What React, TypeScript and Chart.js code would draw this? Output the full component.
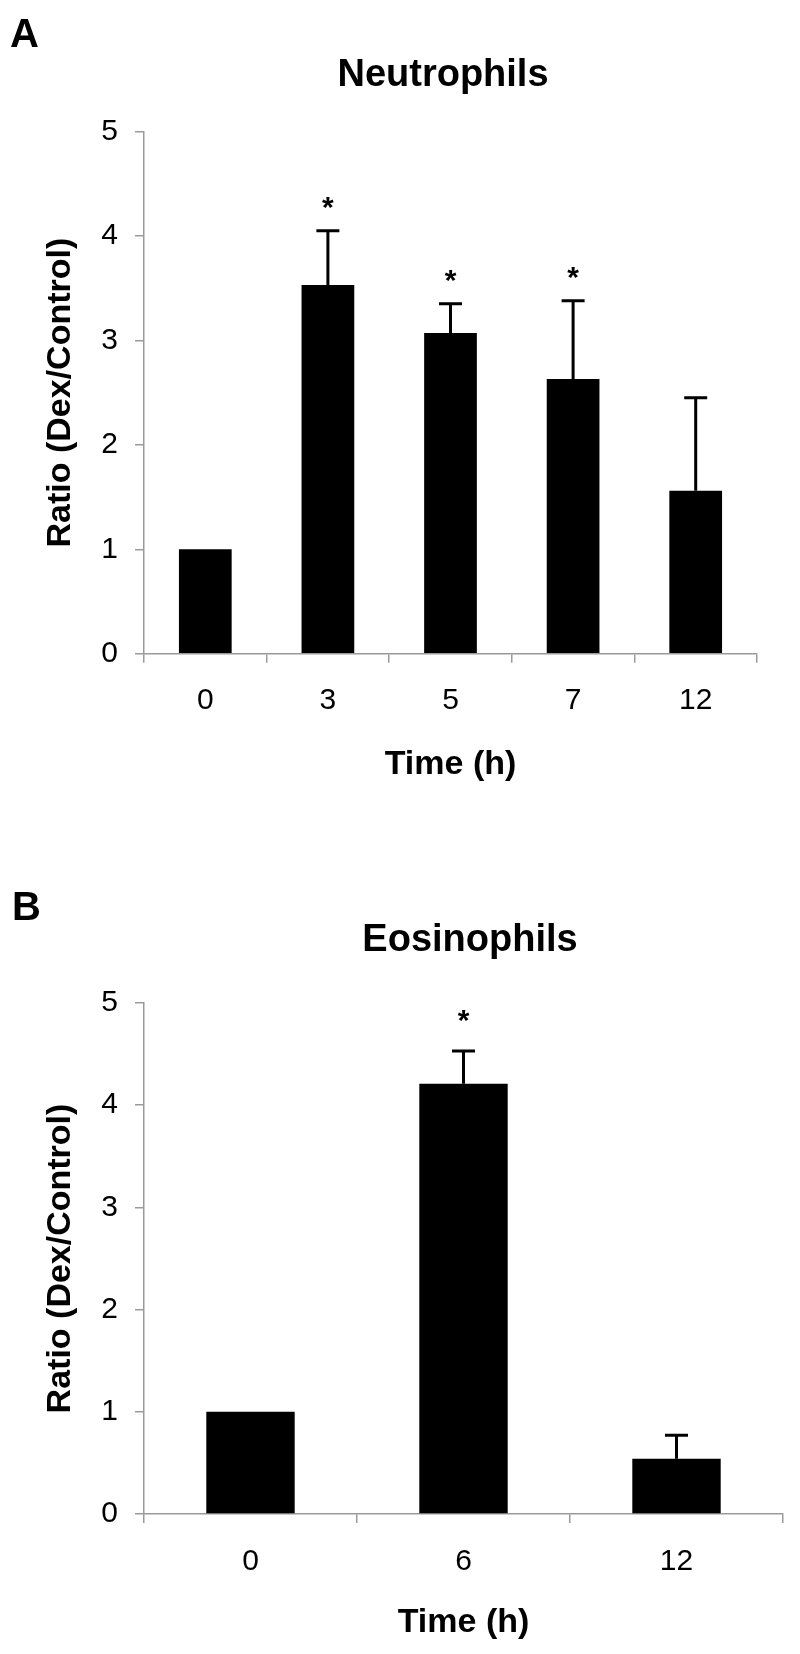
import React, { useEffect, useRef } from 'react';
import { Chart, registerables } from 'chart.js';

Chart.register(...registerables);

const FONT = 'Arial, "Liberation Sans", Helvetica, sans-serif';
const AXIS_COLOR = '#9a9a9a';

// Panel A – Neutrophils
const neutrophilTimes = ['0', '3', '5', '7', '12'];
const neutrophilRatio = [1.0, 3.53, 3.07, 2.63, 1.56];
const neutrophilError = [0, 0.52, 0.28, 0.75, 0.89];
const neutrophilSignificant = [false, true, true, true, false];

// Panel B – Eosinophils
const eosinophilTimes = ['0', '6', '12'];
const eosinophilRatio = [1.0, 4.21, 0.54];
const eosinophilError = [0, 0.32, 0.23];
const eosinophilSignificant = [false, true, false];

// Axis ticks and titles
const yTickValues = [0, 1, 2, 3, 4, 5];
const yAxisTitle = 'Ratio (Dex/Control)';
const xAxisTitle = 'Time (h)';

type Layout = {
  top: number;
  height: number;
  padTop: number;
  padRight: number;
  xAxisHeight: number;
  xTickPad: number;
  xTitlePadBottom: number;
  yTitlePadTop: number;
  titleX: number;
  titleBaseline: number;
  letterX: number;
  letterBaseline: number;
  barPct: number;
  starGap: number;
};

const layoutA: Layout = {
  top: 0, height: 827, padTop: 131.4, padRight: 43, xAxisHeight: 173.2,
  xTickPad: 20, xTitlePadBottom: 41.6, yTitlePadTop: 40,
  titleX: 443, titleBaseline: 86, letterX: 10, letterBaseline: 47,
  barPct: 0.43, starGap: 31,
};

const layoutB: Layout = {
  top: 827, height: 827, padTop: 176, padRight: 17, xAxisHeight: 140,
  xTickPad: 21, xTitlePadBottom: 10.6, yTitlePadTop: 40,
  titleX: 470, titleBaseline: 124, letterX: 12, letterBaseline: 93,
  barPct: 0.415, starGap: 38,
};

type PanelProps = {
  letter: string;
  title: string;
  labels: string[];
  values: number[];
  errors: number[];
  significant: boolean[];
  layout: Layout;
};

function Panel(props: PanelProps) {
  const ref = useRef<HTMLCanvasElement>(null);

  useEffect(() => {
    const canvas = ref.current;
    if (!canvas) return;
    const L = props.layout;

    const annotate = {
      id: 'annotate',
      afterDraw(chart: any) {
        const ctx = chart.ctx as CanvasRenderingContext2D;
        ctx.save();
        ctx.fillStyle = '#000';
        ctx.textBaseline = 'alphabetic';
        ctx.textAlign = 'left';
        ctx.font = `bold 40px ${FONT}`;
        ctx.fillText(props.letter, L.letterX, L.letterBaseline);
        ctx.textAlign = 'center';
        ctx.font = `bold 38px ${FONT}`;
        ctx.fillText(props.title, L.titleX, L.titleBaseline);

        const meta = chart.getDatasetMeta(0);
        const yScale = chart.scales.y;
        ctx.strokeStyle = '#000';
        ctx.lineWidth = 3;
        props.values.forEach((v, i) => {
          const e = props.errors[i];
          const x = meta.data[i].x;
          const yTop = yScale.getPixelForValue(v + e);
          if (e > 0) {
            const yBar = yScale.getPixelForValue(v);
            ctx.beginPath();
            ctx.moveTo(x, yBar);
            ctx.lineTo(x, yTop);
            ctx.moveTo(x - 11.5, yTop);
            ctx.lineTo(x + 11.5, yTop);
            ctx.stroke();
          }
          if (props.significant[i]) {
            ctx.font = `bold 30px ${FONT}`;
            ctx.fillText('*', x, yTop - L.starGap + 17);
          }
        });
        ctx.restore();
      },
    };

    const chart = new Chart(canvas, {
      type: 'bar',
      data: {
        labels: props.labels,
        datasets: [
          {
            data: props.values,
            backgroundColor: '#000000',
            borderWidth: 0,
            barPercentage: L.barPct,
            categoryPercentage: 1,
          },
        ],
      },
      options: {
        responsive: false,
        animation: false,
        devicePixelRatio: 1,
        layout: { padding: { top: L.padTop, right: L.padRight, left: 0, bottom: 0 } },
        plugins: {
          legend: { display: false },
          tooltip: { enabled: false },
          title: { display: false },
        },
        scales: {
          x: {
            type: 'category',
            offset: true,
            grid: {
              offset: true,
              drawOnChartArea: false,
              drawTicks: true,
              tickLength: 9,
              color: AXIS_COLOR,
              lineWidth: 1.5,
            },
            border: { display: true, color: AXIS_COLOR, width: 1.5 },
            ticks: {
              color: '#000',
              font: { family: FONT, size: 30 },
              padding: L.xTickPad,
              maxRotation: 0,
              autoSkip: false,
            },
            title: {
              display: true,
              text: xAxisTitle,
              color: '#000',
              font: { family: FONT, size: 34, weight: 'bold' },
              padding: { top: 0, bottom: L.xTitlePadBottom },
            },
            afterFit: (s: any) => {
              s.height = L.xAxisHeight;
            },
          },
          y: {
            min: 0,
            max: 5,
            grid: {
              drawOnChartArea: false,
              drawTicks: true,
              tickLength: 9,
              color: AXIS_COLOR,
              lineWidth: 1.5,
            },
            border: { display: true, color: AXIS_COLOR, width: 1.5 },
            ticks: {
              color: '#000',
              font: { family: FONT, size: 30 },
              padding: 17,
            },
            afterBuildTicks: (s: any) => {
              s.ticks = yTickValues.map((v) => ({ value: v }));
            },
            title: {
              display: true,
              text: yAxisTitle,
              color: '#000',
              font: { family: FONT, size: 34, weight: 'bold' },
              padding: { top: L.yTitlePadTop, bottom: 0 },
            },
            afterFit: (s: any) => {
              s.width = 144;
            },
          },
        },
      } as any,
      plugins: [annotate],
    });

    return () => chart.destroy();
  }, []);

  const L = props.layout;
  return (
    <canvas
      ref={ref}
      width={800}
      height={L.height}
      style={{ position: 'absolute', left: 0, top: L.top, width: 800, height: L.height, display: 'block' }}
    />
  );
}

export default function App() {
  return (
    <div style={{ position: 'absolute', left: 0, top: 0, width: 800, height: 1654, background: '#fff' }}>
      <Panel
        letter="A"
        title="Neutrophils"
        labels={neutrophilTimes}
        values={neutrophilRatio}
        errors={neutrophilError}
        significant={neutrophilSignificant}
        layout={layoutA}
      />
      <Panel
        letter="B"
        title="Eosinophils"
        labels={eosinophilTimes}
        values={eosinophilRatio}
        errors={eosinophilError}
        significant={eosinophilSignificant}
        layout={layoutB}
      />
    </div>
  );
}
